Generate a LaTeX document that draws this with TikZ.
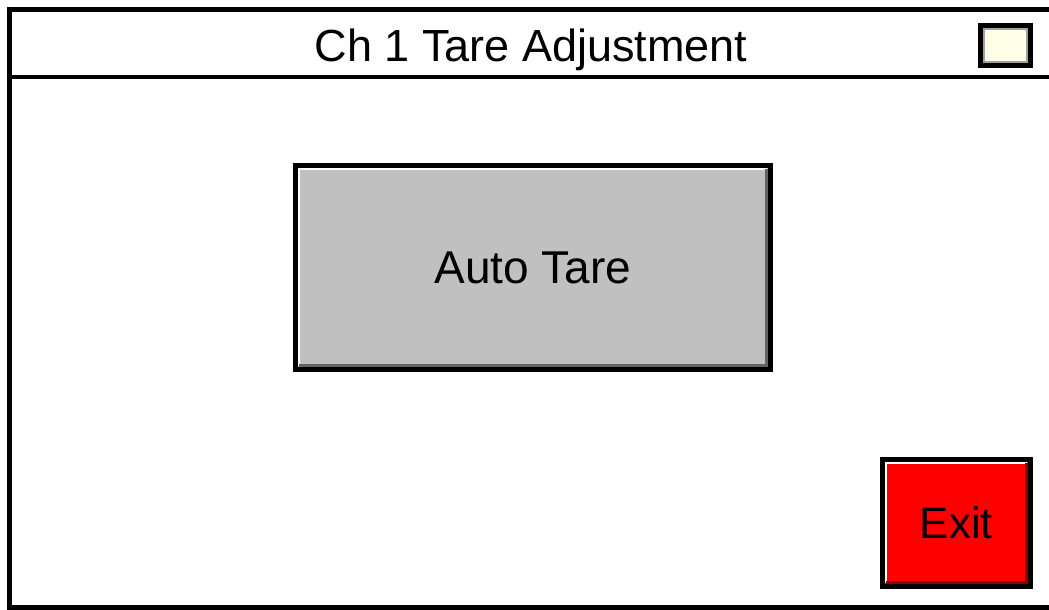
\documentclass[tikz,border=0pt]{standalone}
\usepackage{fontspec}
\setmainfont{Liberation Sans}

\definecolor{btngray}{HTML}{C0C0C0}
\definecolor{btnshade}{HTML}{646464}
\definecolor{exitred}{HTML}{FF0000}
\definecolor{exitshade}{HTML}{8A0000}
\definecolor{flagfill}{HTML}{FFFFE8}
\definecolor{flagring}{HTML}{A0A0A0}

\tikzset{
	panelbtn/.style = {draw = black, line width = 5pt, outer sep = 0pt, inner sep = 0pt,
		font = \fontsize{44}{52}\selectfont},
}

% raised edge inside a button
\newcommand{\bevel}[2]{%
	\draw [white, line width = 2pt]
		([shift = {(3.5pt,4pt)}]#1.south west) -- ([shift = {(3.5pt,-3.5pt)}]#1.north west)
		-- ([shift = {(-4pt,-3.5pt)}]#1.north east);
	\draw [#2, line width = 3pt]
		([shift = {(3pt,4pt)}]#1.south west) -- ([shift = {(-4pt,4pt)}]#1.south east)
		-- ([shift = {(-4pt,-3pt)}]#1.north east);
}

\begin{document}
\begin{tikzpicture}[x = 1pt, y = -1pt]
		\def\w{1049};
		\def\h{610};

		\useasboundingbox (0,0) rectangle (\w,\h);
		\clip (0,0) rectangle (\w,\h);

		% window frame and title bar
		\begin{scope}
			\draw [line width = 5pt] (9.5,9.5) rectangle (\w+20,607);
			\draw [line width = 4pt] (9.5,77) -- (\w+20,77);

			\node [anchor = base, font = \fontsize{45}{52}\selectfont] (title) at (531,61.5) {Ch 1 Tare Adjustment};

			\node [panelbtn, fill = flagfill, minimum width = 50pt, minimum height = 40pt] (tareflag) at (1005.5,45.5) {};
			\draw [flagring, line width = 2pt] ([shift = {(3.5pt,3.5pt)}]tareflag.south west) rectangle ([shift = {(-3.5pt,-3.5pt)}]tareflag.north east);
		\end{scope}

		% buttons
		\begin{scope}
			\node [panelbtn, fill = btngray, minimum width = 475pt, minimum height = 204pt,
				font = \fontsize{46}{54}\selectfont] (autotare) at (533,267.5) {Auto Tare};
			\bevel{autotare}{btnshade}

			\node [panelbtn, fill = exitred, minimum width = 148pt, minimum height = 127pt] (exitbtn) at (956.5,523) {Exit};
			\bevel{exitbtn}{exitshade}
		\end{scope}
	\end{tikzpicture}
\end{document}
